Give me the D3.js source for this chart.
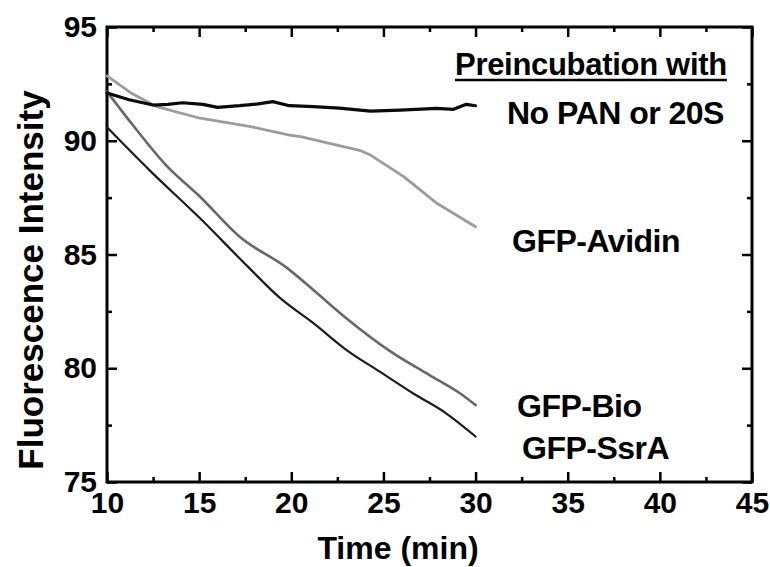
<!DOCTYPE html>
<html>
<head>
<meta charset="utf-8">
<script src="https://cdn.jsdelivr.net/npm/d3@7"></script>
<style>
  body { margin: 0; background: #fff; }
  svg text { font-family: "Liberation Sans", Arial, sans-serif; font-weight: bold; fill: #000; }
</style>
</head>
<body>
<div id="chart"></div>
<script>
////////////////////////////////////////////////////////////////////////
// Data (time in min, fluorescence intensity)
////////////////////////////////////////////////////////////////////////
var timeNoPan = [10, 11.2, 12.5, 13.3, 14.1, 15.2, 16, 17.2, 18.2, 19, 19.9, 21.2, 22.6, 24.3, 25.9, 27.9, 28.8, 29.5, 30];
var valNoPan  = [92.1, 91.8, 91.57, 91.6, 91.67, 91.6, 91.47, 91.54, 91.62, 91.72, 91.54, 91.5, 91.43, 91.3, 91.35, 91.42, 91.38, 91.6, 91.54];

var timeAvidin = [10, 11.3, 12.7, 15.05, 17.8, 19.9, 20.5, 23.7, 24.3, 26.1, 27.9, 30];
var valAvidin  = [92.85, 92.1, 91.5, 90.99, 90.62, 90.25, 90.18, 89.58, 89.37, 88.42, 87.25, 86.22];

var timeBio = [10, 11.4, 13.2, 15.05, 17.2, 19.8, 21.2, 23.0, 25.4, 27.5, 29.15, 30];
var valBio  = [92.16, 90.69, 88.93, 87.54, 85.78, 84.39, 83.44, 82.19, 80.73, 79.7, 78.9, 78.38];

var timeSsrA = [10, 12.3, 15.05, 17.6, 19.4, 21.2, 23.0, 24.8, 26.6, 28.4, 30];
var valSsrA  = [90.59, 88.71, 86.59, 84.5, 83.08, 81.98, 80.8, 79.85, 78.9, 78.02, 77.0];

var xMajorTicks = [10, 15, 20, 25, 30, 35, 40, 45];
var xMinorTicks = [12.5, 17.5, 22.5, 27.5, 32.5, 37.5, 42.5];
var yMajorTicks = [75, 80, 85, 90, 95];
var yMinorTicks = [77.5, 82.5, 87.5, 92.5];

var seriesNames = ["No PAN or 20S", "GFP-Avidin", "GFP-Bio", "GFP-SsrA"];
var legendTitle = "Preincubation with";


////////////////////////////////////////////////////////////////////////
//
// Draw the whole chart
//
////////////////////////////////////////////////////////////////////////
function drawChart()
  {
  var width = 770;
  var height = 567;
  var left = 107, right = 752, top = 27, bottom = 482;

  var svg = d3.select("#chart").append("svg")
    .attr("width", width)
    .attr("height", height);

  var x = d3.scaleLinear().domain([10, 45]).range([left, right]);
  var y = d3.scaleLinear().domain([75, 95]).range([bottom, top]);

  //major and minor ticks on all four sides, pointing in
  drawAxis(svg, d3.axisBottom(x).tickValues(xMajorTicks).tickSize(-10).tickPadding(10), "translate(0," + bottom + ")", true);
  drawAxis(svg, d3.axisBottom(x).tickValues(xMinorTicks).tickSize(-5), "translate(0," + bottom + ")", false);
  drawAxis(svg, d3.axisTop(x).tickValues(xMajorTicks).tickSize(-10), "translate(0," + top + ")", false);
  drawAxis(svg, d3.axisTop(x).tickValues(xMinorTicks).tickSize(-5), "translate(0," + top + ")", false);
  drawAxis(svg, d3.axisLeft(y).tickValues(yMajorTicks).tickSize(-10).tickPadding(10), "translate(" + left + ",0)", true);
  drawAxis(svg, d3.axisLeft(y).tickValues(yMinorTicks).tickSize(-5), "translate(" + left + ",0)", false);
  drawAxis(svg, d3.axisRight(y).tickValues(yMajorTicks).tickSize(-10), "translate(" + right + ",0)", false);
  drawAxis(svg, d3.axisRight(y).tickValues(yMinorTicks).tickSize(-5), "translate(" + right + ",0)", false);

  //frame
  svg.append("rect")
    .attr("x", left).attr("y", top)
    .attr("width", right - left).attr("height", bottom - top)
    .attr("fill", "none")
    .attr("stroke", "#000")
    .attr("stroke-width", 3);

  //the four traces
  var series = [
    {t: timeAvidin, v: valAvidin, color: "#9c9c9c", w: 2.8, smooth: false},
    {t: timeBio,    v: valBio,    color: "#686868", w: 2.6, smooth: true},
    {t: timeSsrA,   v: valSsrA,   color: "#1c1c1c", w: 2.2, smooth: true},
    {t: timeNoPan,  v: valNoPan,  color: "#0a0a0a", w: 3.2, smooth: false}
  ];

  series.forEach(function(s)
    {
    var line = d3.line()
      .x(function(d) { return x(d[0]); })
      .y(function(d) { return y(d[1]); })
      .curve(s.smooth ? d3.curveMonotoneX : d3.curveLinear);

    svg.append("path")
      .datum(d3.zip(s.t, s.v))
      .attr("d", line)
      .attr("fill", "none")
      .attr("stroke", s.color)
      .attr("stroke-width", s.w)
      .attr("stroke-linejoin", "round")
      .attr("stroke-linecap", "round");
    });

  //legend title, underlined
  var title = svg.append("text")
    .attr("x", 455).attr("y", 75)
    .style("font-size", "31px")
    .style("letter-spacing", "-0.3px")
    .text(legendTitle);
  var tw = title.node().getComputedTextLength();
  svg.append("line")
    .attr("x1", 455).attr("x2", 455 + tw)
    .attr("y1", 80).attr("y2", 80)
    .attr("stroke", "#000")
    .attr("stroke-width", 2.5);

  //labels next to each trace
  var labelPos = [[507, 124], [512, 252], [517, 417], [522, 459]];
  seriesNames.forEach(function(name, i)
    {
    svg.append("text")
      .attr("x", labelPos[i][0]).attr("y", labelPos[i][1])
      .style("font-size", "32px")
      .style("letter-spacing", "-0.5px")
      .text(name);
    });

  //axis titles
  svg.append("text")
    .attr("x", 398).attr("y", 559)
    .attr("text-anchor", "middle")
    .style("font-size", "32px")
    .text("Time (min)");

  svg.append("text")
    .attr("transform", "translate(43,280) rotate(-90)")
    .attr("text-anchor", "middle")
    .style("font-size", "35px")
    .text("Fluorescence Intensity");

  return;
  }


////////////////////////////////////////////////////////////////////////
//
// Append an axis group, with or without its labels
//
////////////////////////////////////////////////////////////////////////
function drawAxis(svg, axis, transform, showLabels)
  {
  axis.tickSizeOuter(0);
  if(!showLabels)
    {
    axis.tickFormat("");
    }

  var g = svg.append("g").attr("transform", transform).call(axis);
  g.select(".domain").remove();
  g.selectAll(".tick line").attr("stroke", "#000").attr("stroke-width", 2.5);
  g.selectAll(".tick text")
    .attr("fill", "#000")
    .style("font-size", "30px")
    .style("font-family", "'Liberation Sans', Arial, sans-serif")
    .style("font-weight", "bold");

  return g;
  }

drawChart();
</script>
</body>
</html>
